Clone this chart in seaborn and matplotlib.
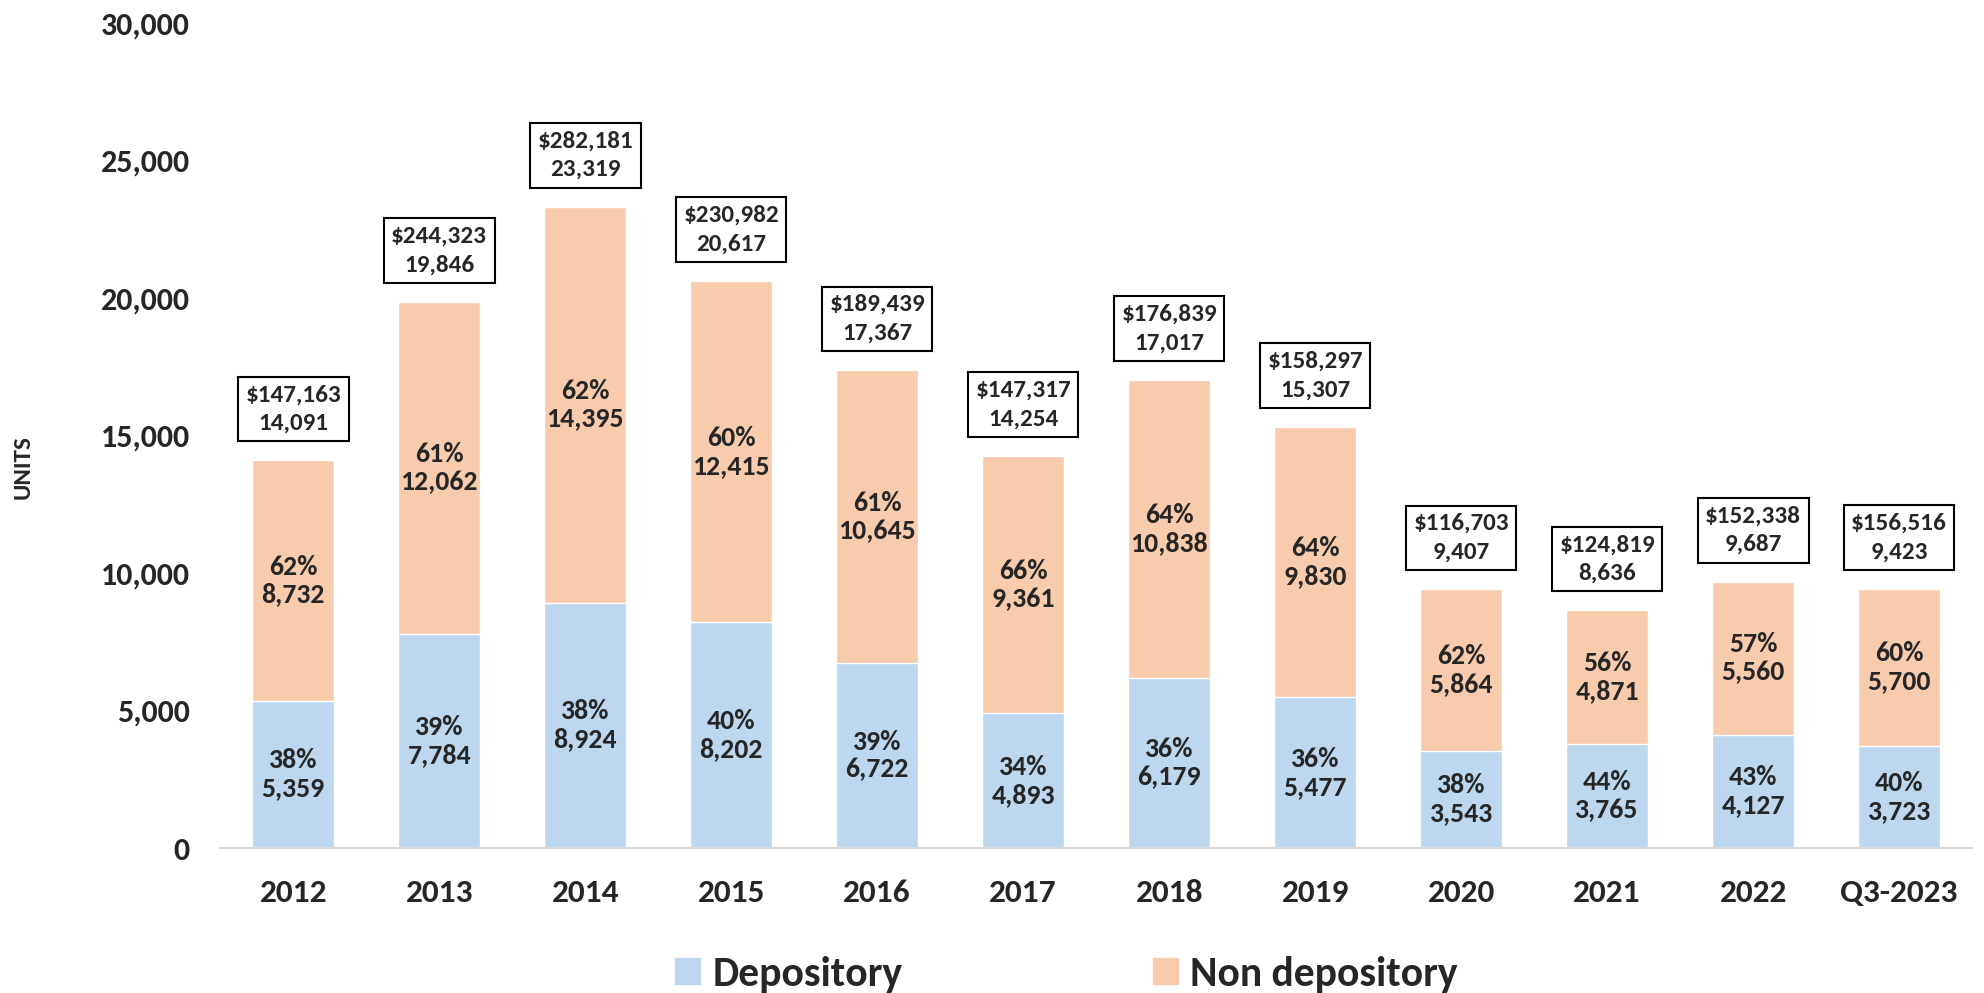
import matplotlib
matplotlib.use("Agg")
import matplotlib.pyplot as plt
import numpy as np
import pandas as pd
import seaborn as sns
from matplotlib.patches import Patch

# ── Data ──────────────────────────────────────────────────────────────────────
periods = ["2012", "2013", "2014", "2015", "2016", "2017",
           "2018", "2019", "2020", "2021", "2022", "Q3-2023"]
depository = [5359, 7784, 8924, 8202, 6722, 4893, 6179, 5477, 3543, 3765, 4127, 3723]
non_depository = [8732, 12062, 14395, 12415, 10645, 9361, 10838, 9830, 5864, 4871, 5560, 5700]
dep_pct = [38, 39, 38, 40, 39, 34, 36, 36, 38, 44, 43, 40]
nondep_pct = [62, 61, 62, 60, 61, 66, 64, 64, 62, 56, 57, 60]
dollar_volume = [147163, 244323, 282181, 230982, 189439, 147317,
                 176839, 158297, 116703, 124819, 152338, 156516]

BLUE = "#BDD7EE"
ORANGE = "#F8CBAD"

df = pd.DataFrame({
    "period": periods,
    "depository": depository,
    "non_depository": non_depository,
})
df["total"] = df["depository"] + df["non_depository"]

# ── Style ─────────────────────────────────────────────────────────────────────
sns.set_style("white")
plt.rcParams["font.family"] = "Carlito"
plt.rcParams["font.weight"] = "bold"

fig, ax = plt.subplots(figsize=(19.84, 9.93), dpi=100)
fig.subplots_adjust(left=0.111, right=0.994, bottom=0.146, top=0.977)

# stacked bars: total first (orange), depository drawn over it (blue)
sns.barplot(data=df, x="period", y="total", color=ORANGE, width=0.56,
            saturation=1, ax=ax)
sns.barplot(data=df, x="period", y="depository", color=BLUE, width=0.56,
            saturation=1, ax=ax)

seg_size = 20
box_size = 18
for i, row in df.iterrows():
    d, n, t = row["depository"], row["non_depository"], row["total"]
    ax.text(i, d / 2, f"{dep_pct[i]}%\n{d:,}", ha="center", va="center",
            fontsize=seg_size, fontweight="bold", linespacing=1.2)
    ax.text(i, d + n / 2, f"{nondep_pct[i]}%\n{n:,}", ha="center", va="center",
            fontsize=seg_size, fontweight="bold", linespacing=1.2)
    ax.annotate(f"${dollar_volume[i]:,}\n{t:,}", xy=(i, t), xytext=(0, 37),
                textcoords="offset points", ha="center", va="center",
                fontsize=box_size, fontweight="bold", linespacing=1.45,
                bbox=dict(boxstyle="square,pad=0.3", fc="white", ec="black", lw=1.5))

ax.set_ylim(0, 30000)
ax.set_yticks(range(0, 30001, 5000))
ax.set_yticklabels([f"{v:,}" for v in range(0, 30001, 5000)], fontsize=23, fontweight="bold")
ax.set_xlim(-0.5, len(periods) - 0.5)
ax.set_xticks(range(len(periods)))
ax.set_xticklabels(periods, fontsize=24, fontweight="bold")
ax.tick_params(axis="both", length=0)
ax.tick_params(axis="y", pad=22)
ax.tick_params(axis="x", pad=22)
ax.set_xlabel("")
ax.set_ylabel("")
fig.text(0.0116, 0.53, "UNITS", rotation=90, ha="center", va="center",
         fontsize=18, fontweight="bold")

for s in ["top", "right", "left"]:
    ax.spines[s].set_visible(False)
ax.spines["bottom"].set_color("#D9D9D9")
ax.spines["bottom"].set_linewidth(1.5)

handles = [Patch(color=BLUE, label="Depository"), Patch(color=ORANGE, label="Non depository")]
fig.legend(handles=handles, loc="center", bbox_to_anchor=(0.5376, 0.019), ncol=2,
           frameon=False, handlelength=0.6, handleheight=0.6,
           handletextpad=0.3, columnspacing=6.0, prop={"size": 30, "weight": "bold"})

plt.savefig("out.png", dpi=100)
plt.close()
